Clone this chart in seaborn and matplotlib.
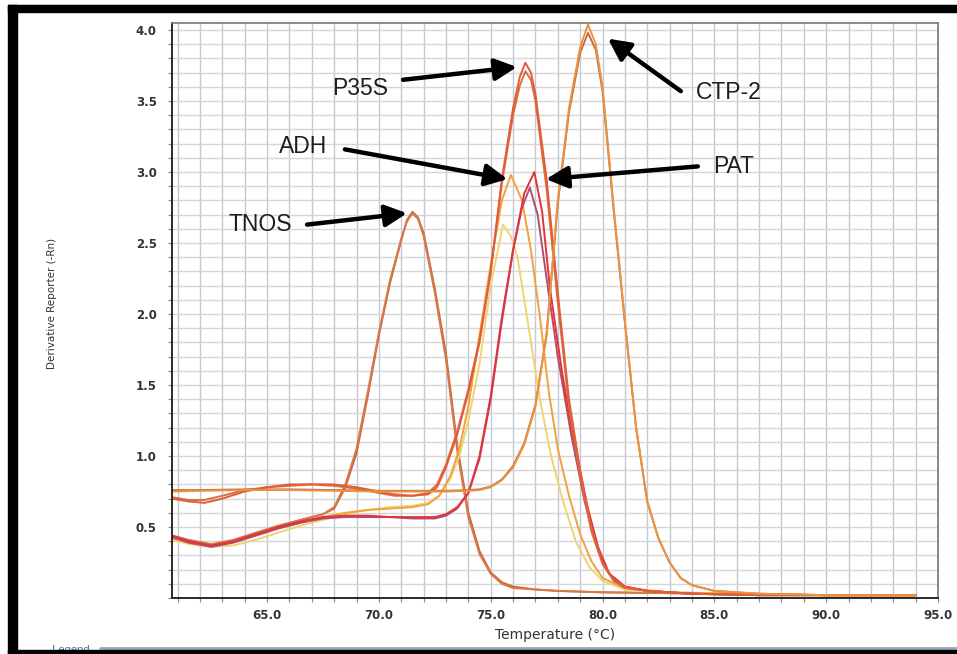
import numpy as np
import pandas as pd
import matplotlib
matplotlib.use('Agg')
import matplotlib.pyplot as plt
import seaborn as sns
from matplotlib.ticker import MultipleLocator, FormatStrFormatter
from matplotlib.patches import Rectangle
from matplotlib.lines import Line2D

# melt curve readings (temperature in C, derivative reporter -Rn)
x_tnos = [60.75, 61.5, 62.5, 63.5, 64.5, 65.5, 66.5, 67.5, 68.0, 68.5, 69.0, 69.5, 70.0, 70.5,
          71.0, 71.25, 71.5, 71.75, 72.0, 72.5, 73.0, 73.5, 74.0, 74.5, 75.0, 75.5, 76.0, 77.0,
          78.0, 80.0, 85.0, 90.0, 94.0]
y_tnos_a = [0.43, 0.40, 0.37, 0.40, 0.45, 0.50, 0.55, 0.59, 0.63, 0.78, 1.02, 1.42, 1.85, 2.22,
            2.52, 2.66, 2.72, 2.68, 2.57, 2.18, 1.72, 1.08, 0.60, 0.33, 0.18, 0.11, 0.08, 0.06,
            0.05, 0.04, 0.03, 0.02, 0.02]
y_tnos_b = [0.44, 0.41, 0.38, 0.41, 0.46, 0.51, 0.55, 0.59, 0.64, 0.80, 1.05, 1.45, 1.87, 2.24,
            2.53, 2.65, 2.71, 2.67, 2.55, 2.15, 1.68, 1.04, 0.57, 0.31, 0.17, 0.10, 0.07, 0.06,
            0.05, 0.04, 0.03, 0.02, 0.02]

x_adh_a = [60.75, 61.5, 62.5, 63.5, 64.5, 65.5, 66.5, 67.5, 68.5, 69.5, 70.5, 71.5, 72.2, 72.7,
           73.2, 73.6, 74.0, 74.5, 75.0, 75.5, 75.9, 76.4, 76.8, 77.2, 77.6, 78.0, 78.5, 79.0,
           79.5, 80.0, 81.0, 83.0, 86.0, 90.0, 94.0]
y_adh_a = [0.42, 0.39, 0.37, 0.40, 0.44, 0.49, 0.53, 0.57, 0.60, 0.62, 0.63, 0.64, 0.66, 0.72,
           0.86, 1.05, 1.35, 1.85, 2.35, 2.80, 2.98, 2.80, 2.45, 1.98, 1.45, 1.05, 0.72, 0.45,
           0.26, 0.14, 0.07, 0.04, 0.03, 0.02, 0.02]
x_adh_b = [60.75, 61.5, 62.5, 63.5, 64.5, 65.5, 66.5, 67.5, 68.5, 69.5, 70.5, 71.5, 72.2, 72.7,
           73.2, 73.6, 74.0, 74.5, 75.0, 75.55, 75.9, 76.2, 76.6, 77.2, 77.7, 78.2, 78.8, 79.4,
           80.0, 81.0, 83.0, 86.0, 90.0, 94.0]
y_adh_b = [0.41, 0.38, 0.36, 0.37, 0.41, 0.46, 0.51, 0.55, 0.59, 0.62, 0.64, 0.65, 0.67, 0.72,
           0.84, 1.00, 1.25, 1.65, 2.20, 2.63, 2.55, 2.40, 2.00, 1.40, 1.00, 0.70, 0.40, 0.22,
           0.12, 0.06, 0.04, 0.03, 0.02, 0.02]

x_pat_a = [60.75, 61.5, 62.5, 63.5, 64.5, 65.5, 66.5, 67.5, 68.5, 69.5, 70.5, 71.5, 72.5, 73.0,
           73.5, 74.0, 74.5, 75.0, 75.5, 76.0, 76.5, 76.95, 77.3, 77.65, 78.2, 78.7, 79.3, 79.8,
           80.3, 81.0, 82.0, 84.0, 87.0, 90.0, 94.0]
y_pat_a = [0.44, 0.40, 0.37, 0.40, 0.45, 0.50, 0.54, 0.57, 0.58, 0.58, 0.57, 0.57, 0.57, 0.59,
           0.64, 0.74, 1.00, 1.42, 1.98, 2.45, 2.85, 3.00, 2.72, 2.18, 1.58, 1.12, 0.66, 0.36,
           0.17, 0.08, 0.05, 0.03, 0.02, 0.02, 0.02]
x_pat_b = [60.75, 61.5, 62.5, 63.5, 64.5, 65.5, 66.5, 67.5, 68.5, 69.5, 70.5, 71.5, 72.5, 73.0,
           73.5, 74.0, 74.5, 75.0, 75.5, 76.0, 76.4, 76.75, 77.1, 77.5, 78.0, 78.6, 79.2, 79.7,
           80.3, 81.0, 82.0, 84.0, 87.0, 90.0, 94.0]
y_pat_b = [0.43, 0.39, 0.36, 0.39, 0.44, 0.49, 0.53, 0.56, 0.57, 0.57, 0.57, 0.56, 0.56, 0.58,
           0.63, 0.74, 0.98, 1.40, 1.95, 2.45, 2.75, 2.89, 2.70, 2.25, 1.70, 1.15, 0.68, 0.38,
           0.17, 0.08, 0.05, 0.03, 0.02, 0.02, 0.02]

x_p35s = [60.75, 61.5, 62.2, 63.0, 64.0, 65.0, 66.0, 67.0, 68.0, 69.0, 70.0, 70.7, 71.5, 72.2,
          72.6, 73.0, 73.5, 74.0, 74.5, 75.0, 75.5, 76.0, 76.3, 76.55, 76.8, 77.0, 77.5, 78.0,
          78.5, 79.0, 79.5, 80.0, 80.5, 81.0, 82.0, 84.0, 87.0, 90.0, 94.0]
y_p35s_a = [0.70, 0.68, 0.67, 0.70, 0.75, 0.78, 0.80, 0.80, 0.80, 0.78, 0.75, 0.73, 0.72, 0.73,
            0.78, 0.92, 1.15, 1.45, 1.80, 2.30, 2.95, 3.45, 3.67, 3.77, 3.70, 3.55, 2.95, 2.15,
            1.40, 0.90, 0.50, 0.25, 0.13, 0.08, 0.05, 0.03, 0.02, 0.02, 0.02]
y_p35s_b = [0.71, 0.69, 0.69, 0.72, 0.76, 0.78, 0.79, 0.80, 0.79, 0.77, 0.74, 0.72, 0.72, 0.74,
            0.80, 0.94, 1.17, 1.47, 1.82, 2.30, 2.92, 3.40, 3.61, 3.71, 3.65, 3.50, 2.88, 2.08,
            1.35, 0.86, 0.47, 0.24, 0.12, 0.07, 0.05, 0.03, 0.02, 0.02, 0.02]

x_ctp = [60.75, 62.0, 64.0, 66.0, 68.0, 70.0, 72.0, 73.0, 74.0, 74.5, 75.0, 75.5, 76.0, 76.5,
         77.0, 77.5, 78.0, 78.5, 79.0, 79.35, 79.7, 80.0, 80.5, 81.0, 81.5, 82.0, 82.5, 83.0,
         83.5, 84.0, 85.0, 87.0, 90.0, 94.0]
y_ctp_a = [0.75, 0.755, 0.76, 0.76, 0.755, 0.75, 0.75, 0.75, 0.755, 0.76, 0.78, 0.83, 0.92, 1.08,
           1.35, 1.85, 2.80, 3.45, 3.88, 4.04, 3.90, 3.60, 2.75, 1.95, 1.20, 0.68, 0.42, 0.25,
           0.14, 0.09, 0.05, 0.03, 0.02, 0.02]
y_ctp_b = [0.76, 0.76, 0.765, 0.765, 0.76, 0.755, 0.755, 0.755, 0.76, 0.765, 0.785, 0.835, 0.93,
           1.09, 1.36, 1.86, 2.78, 3.42, 3.84, 3.98, 3.86, 3.57, 2.73, 1.94, 1.20, 0.68, 0.42,
           0.25, 0.14, 0.09, 0.05, 0.03, 0.02, 0.02]

curves = {
    'TNOS a': (x_tnos, y_tnos_a),
    'TNOS b': (x_tnos, y_tnos_b),
    'ADH b': (x_adh_b, y_adh_b),
    'ADH a': (x_adh_a, y_adh_a),
    'PAT b': (x_pat_b, y_pat_b),
    'PAT a': (x_pat_a, y_pat_a),
    'P35S b': (x_p35s, y_p35s_b),
    'P35S a': (x_p35s, y_p35s_a),
    'CTP-2 b': (x_ctp, y_ctp_b),
    'CTP-2 a': (x_ctp, y_ctp_a),
}
colors = {
    'TNOS a': '#c9623f', 'TNOS b': '#d87a48',
    'ADH a': '#f2a23a', 'ADH b': '#f0d470',
    'PAT a': '#e0343c', 'PAT b': '#b44c70',
    'P35S a': '#e45a3a', 'P35S b': '#d8703e',
    'CTP-2 a': '#eb9440', 'CTP-2 b': '#c86c44',
}

df = pd.concat([pd.DataFrame({'temp': x, 'deriv': y, 'curve': name})
                for name, (x, y) in curves.items()], ignore_index=True)

sns.set_style('white')
plt.rcParams['font.family'] = ['Liberation Sans', 'DejaVu Sans']

fig = plt.figure(figsize=(9.57, 6.54), dpi=100)
fig.patch.set_facecolor('white')
ax = fig.add_axes([0.17973, 0.08563, 0.80042, 0.87920])

sns.lineplot(data=df, x='temp', y='deriv', hue='curve', palette=colors, sort=False,
             estimator=None, legend=False, linewidth=1.4, ax=ax)

ax.set_xlim(60.75, 95)
ax.set_ylim(0, 4.05)
ax.xaxis.set_major_locator(MultipleLocator(5))
ax.xaxis.set_minor_locator(MultipleLocator(1))
ax.xaxis.set_major_formatter(FormatStrFormatter('%.1f'))
ax.set_yticks([0.5, 1.0, 1.5, 2.0, 2.5, 3.0, 3.5, 4.0])
ax.yaxis.set_minor_locator(MultipleLocator(0.1))
ax.yaxis.set_major_formatter(FormatStrFormatter('%.1f'))

ax.set_axisbelow(True)
ax.grid(which='both', axis='x', color='#c4c8d2', linewidth=1.0)
ax.grid(which='both', axis='y', color='#d6d6d6', linewidth=1.0)

ax.tick_params(which='both', direction='out', colors='#888888', length=3, width=0.8)
ax.tick_params(axis='both', which='major', labelcolor='#333333', labelsize=8.5)
ax.tick_params(axis='y', which='major', pad=8)
ax.tick_params(axis='x', which='major', pad=5)
ax.tick_params(left=True, bottom=True, which='both')
for lab in ax.get_xticklabels() + ax.get_yticklabels():
    lab.set_family('DejaVu Sans')
    lab.set_fontweight('bold')

for side in ['top', 'right']:
    ax.spines[side].set_color('#777777')
    ax.spines[side].set_linewidth(1.2)
for side in ['left', 'bottom']:
    ax.spines[side].set_color('#2a2a2a')
    ax.spines[side].set_linewidth(1.4)

ax.set_xlabel('Temperature (°C)', fontsize=10, color='#333333', family='DejaVu Sans', labelpad=4)
ax.set_ylabel('Derivative Reporter (-Rn)', fontsize=7.5, color='#333333',
              family=['Liberation Sans Narrow', 'DejaVu Sans'])
ax.yaxis.set_label_coords(-0.150, 0.513)

# gene labels with arrows
labels = [
    ('P35S', (69.15, 3.59), (71.08, 3.65), (76.17, 3.74)),
    ('CTP-2', (85.65, 3.56), (83.5, 3.57), (80.24, 3.94)),
    ('ADH', (66.6, 3.18), (68.48, 3.16), (75.75, 2.95)),
    ('PAT', (85.87, 3.04), (84.26, 3.04), (77.47, 2.95)),
    ('TNOS', (64.68, 2.63), (66.79, 2.63), (71.26, 2.71)),
]
for text, pos, tail, tip in labels:
    ax.text(pos[0], pos[1], text, fontsize=16.5, color='#1e1e1e', ha='center', va='center')
    ax.annotate('', xy=tip, xytext=tail,
                arrowprops=dict(arrowstyle='-|>,head_length=1.1,head_width=0.55',
                                mutation_scale=12, lw=3.2, color='black',
                                shrinkA=0, shrinkB=0))

# screenshot frame
W, H = 957, 654
fig.add_artist(Line2D([100 / W, 1], [1 - 647.5 / H] * 2, color='#9aa6b4', lw=2.0,
                      transform=fig.transFigure))
fig.text(38 / W, 1 - 650 / H, '— Legend', fontsize=8, color='#4a6a9a', va='center')
fig.add_artist(Rectangle((8 / W, 0), 1, 4 / H, color='black', transform=fig.transFigure,
                         zorder=10))
fig.add_artist(Rectangle((8 / W, 1 - 12 / H), 1, 7 / H, color='black',
                         transform=fig.transFigure, zorder=10))
fig.add_artist(Rectangle((8 / W, 0), 9 / W, 1 - 5 / H, color='black',
                         transform=fig.transFigure, zorder=10))
fig.add_artist(Line2D([8 / W, 1], [1 - 4.5 / H] * 2, color='#c8c8c8', lw=1.0,
                      transform=fig.transFigure))

plt.savefig('out.png', dpi=100, facecolor='white')
